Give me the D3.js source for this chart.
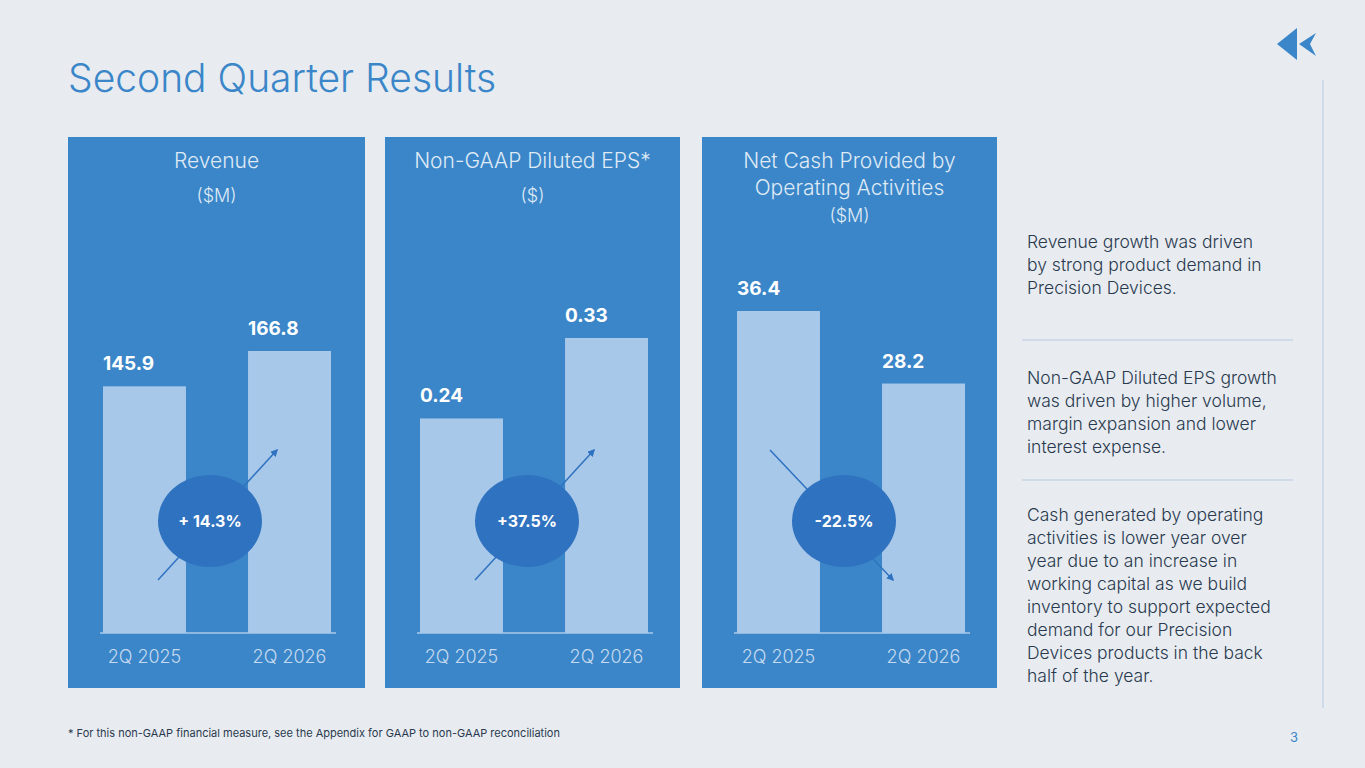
<!DOCTYPE html>
<html><head><meta charset="utf-8">
<script src="https://cdn.jsdelivr.net/npm/d3@7"></script>
<style>body{margin:0;background:#e8ecf1;font-family:Inter,"Noto Sans",sans-serif;}</style>
</head><body>
<script>
var categories = ["2Q 2025", "2Q 2026"];
var revenue = [145.9, 166.8];
var eps = [0.24, 0.33];
var cash = [36.4, 28.2];
var labels = [["145.9", "166.8"], ["0.24", "0.33"], ["36.4", "28.2"]];
var changes = ["+ 14.3%", "+37.5%", "-22.5%"];
var titles = [["Revenue", "($M)"], ["Non-GAAP Diluted EPS*", "($)"], ["Net Cash Provided by", "Operating Activities", "($M)"]];
var notes = [
  ["Revenue growth was driven", "by strong product demand in", "Precision Devices."],
  ["Non-GAAP Diluted EPS growth", "was driven by higher volume,", "margin expansion and lower", "interest expense."],
  ["Cash generated by operating", "activities is lower year over", "year due to an increase in", "working capital as we build", "inventory to support expected", "demand for our Precision", "Devices products in the back", "half of the year."]
];

var svg = d3.select("body").append("svg").attr("width", 1365).attr("height", 768);
svg.append("rect").attr("width", 1365).attr("height", 768).attr("fill", "#e8ecf1");
svg.append("text").attr("x", 68).attr("y", 92).attr("fill", "#3a86c8").attr("font-size", 39).attr("font-weight", 300).text("Second Quarter Results");

// logo
svg.append("path").attr("d", "M1297,28 L1297,60 L1277,44 Z").attr("fill", "#3a86c8");
svg.append("path").attr("d", "M1316,33 L1299,44 L1316,56 L1310,44 Z").attr("fill", "#3a86c8");
svg.append("line").attr("x1", 1323).attr("x2", 1323).attr("y1", 80).attr("y2", 708).attr("stroke", "#b5c9e0");

var panels = [
  {x: 68, w: 297, data: revenue, h: 282, dir: 1},
  {x: 385, w: 295, data: eps, h: 295, dir: 1},
  {x: 702, w: 295, data: cash, h: 322, dir: -1}
];
var base = 633;
svg.append("defs").append("marker").attr("id", "ah").attr("viewBox", "0 0 10 10").attr("refX", 8).attr("refY", 5)
  .attr("markerWidth", 5).attr("markerHeight", 5).attr("orient", "auto")
  .append("path").attr("d", "M0,0 L10,5 L0,10 Z").attr("fill", "#2f72c0");

panels.forEach(function(p, k) {
  var g = svg.append("g").attr("transform", "translate(" + p.x + ",0)");
  g.append("rect").attr("y", 137).attr("width", p.w).attr("height", 551).attr("fill", "#3b86c8");
  var tl = titles[k];
  tl.forEach(function(t, i) {
    var y = tl.length === 3 ? 168 + i * 27 : (i === 0 ? 168 : 202);
    g.append("text").attr("x", p.w / 2).attr("y", y).attr("text-anchor", "middle").attr("fill", "#dfeaf6")
      .attr("font-size", i === tl.length - 1 ? 18 : 21).attr("font-weight", 300).text(t);
  });
  var x = d3.scaleBand().domain(categories).range([35, 263]).paddingInner(0.428).paddingOuter(0);
  var y = d3.scaleLinear().domain([0, d3.max(p.data)]).range([base, base - p.h]);
  g.append("line").attr("x1", 32).attr("x2", 268).attr("y1", base).attr("y2", base).attr("stroke", "#a8c8ea").attr("stroke-width", 1.5);
  g.selectAll(".bar").data(p.data).enter().append("rect")
    .attr("x", function(d, i) { return x(categories[i]); }).attr("width", x.bandwidth())
    .attr("y", function(d) { return y(d); }).attr("height", function(d) { return base - y(d); })
    .attr("fill", "#a8c8ea");
  g.selectAll(".val").data(p.data).enter().append("text")
    .attr("x", function(d, i) { return x(categories[i]); }).attr("y", function(d) { return y(d) - 16; })
    .attr("fill", "#fff").attr("font-size", 19).attr("font-weight", 700)
    .text(function(d, i) { return labels[k][i]; });
  categories.forEach(function(c) {
    g.append("text").attr("x", x(c) + x.bandwidth() / 2).attr("y", 663).attr("text-anchor", "middle").attr("fill", "#c5daf0")
      .attr("font-size", 18).attr("font-weight", 300).text(c);
  });
  var ax = p.dir > 0 ? [90, 580, 209, 450] : [68, 450, 191, 580];
  g.append("line").attr("x1", ax[0]).attr("y1", ax[1]).attr("x2", ax[2]).attr("y2", ax[3])
    .attr("stroke", "#2f72c0").attr("stroke-width", 1.5).attr("marker-end", "url(#ah)");
  g.append("ellipse").attr("cx", 142).attr("cy", 521).attr("rx", 52).attr("ry", 46).attr("fill", "#2f72c0");
  g.append("text").attr("x", 142).attr("y", 527).attr("text-anchor", "middle").attr("fill", "#fff")
    .attr("font-size", 16).attr("font-weight", 700).text(changes[k]);
});

var ny = [248, 384, 521];
notes.forEach(function(n, k) {
  n.forEach(function(t, i) {
    svg.append("text").attr("x", 1027).attr("y", ny[k] + i * 23).attr("fill", "#2a3a4e").attr("font-size", 17.5).attr("font-weight", 300).text(t);
  });
});
[340, 480].forEach(function(yy) {
  svg.append("line").attr("x1", 1022).attr("x2", 1293).attr("y1", yy).attr("y2", yy).attr("stroke", "#b5c9e0");
});
svg.append("text").attr("x", 68).attr("y", 737).attr("fill", "#2a3a4e").attr("font-size", 11).text("* For this non-GAAP financial measure, see the Appendix for GAAP to non-GAAP reconciliation");
svg.append("text").attr("x", 1298).attr("y", 742).attr("text-anchor", "end").attr("fill", "#3a86c8").attr("font-size", 13).text("3");
</script>
</body></html>
